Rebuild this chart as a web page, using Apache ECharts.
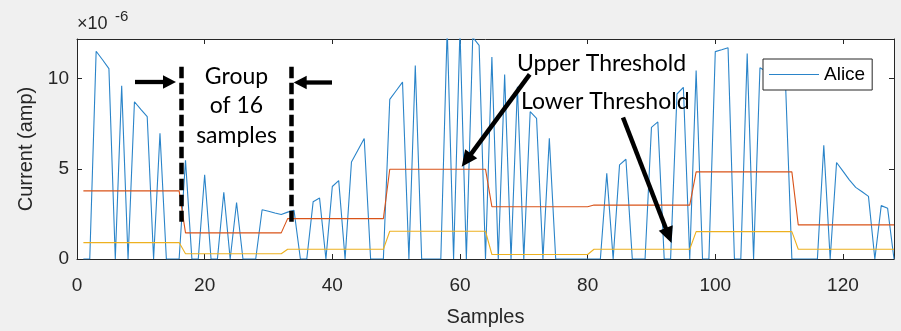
<!DOCTYPE html>
<html><head><meta charset="utf-8">
<script src="https://cdn.jsdelivr.net/npm/echarts@6/dist/echarts.min.js"></script>
<style>html,body{margin:0;padding:0;background:#f0f0f0}#c{width:901px;height:331px}</style>
</head><body><div id="c"></div>
<script>
// values in units of 1e-6 A (axis shows x10^-6)
const yExponent = -6;
const alice = [
  0,0,11.52,11.05,10.56,0,9.6,0,8.72,8.3,7.89,0,6.97,0,0,0,
  5.47,0,0,4.67,0,0,3.7,0,3.13,0,0,0,2.73,2.65,2.55,2.47,
  2.6,2.7,0,0,3.18,3.38,0,4.02,4.35,0,5.38,6.03,6.68,0,0,0,
  8.85,9.33,9.81,0,10.73,0,0,0,0,12.8,0,12.7,0,12.3,11.85,0,
  11.2,0,10.23,0,9.55,0,8.17,7.8,0,6.69,0,0,0,0,0,0,
  0,0,4.75,0,5.22,5.53,0,0,0,7.3,7.6,0,0,9.15,9.52,0,
  10.45,0,0,11.5,11.6,11.71,0,0,11.39,0,10.6,10.4,10.2,10.0,9.8,0,
  0,0,0,0,6.31,0,5.35,4.87,4.39,3.97,3.73,3.47,0,2.96,2.81,0
];
const groupSize = 16;
const upperGroups = [3.78,1.45,2.24,4.98,2.90,2.99,4.83,1.89];
const lowerGroups = [0.91,0.29,0.54,1.54,0.25,0.54,1.52,0.54];
const xTicks = [0,20,40,60,80,100,120];
const yTicks = [0,5,10];
const xMin = 0, xMax = 128, xStep = 20;
const yMin = 0, yMax = 12.2, yStep = 5;

const aliceData = alice.map((v,i)=>[i+1,v]);
const upperData = alice.map((v,i)=>[i+1, upperGroups[Math.floor(i/groupSize)]]);
const lowerData = alice.map((v,i)=>[i+1, lowerGroups[Math.floor(i/groupSize)]]);

const AX = '#262626';
const FONT = 'Liberation Sans';
const ANN = 'Lato';
const BLUE = '#2a84c9';

function arrow(x1,y1,x2,y2,hl,hw,w){
  const dx=x2-x1, dy=y2-y1, L=Math.hypot(dx,dy), ux=dx/L, uy=dy/L;
  const bx=x2-ux*hl, by=y2-uy*hl, px=-uy, py=ux;
  return [
    {type:'line', shape:{x1:x1,y1:y1,x2:bx+ux*1,y2:by+uy*1}, style:{stroke:'#000',lineWidth:w}, z:100},
    {type:'polygon', shape:{points:[[x2,y2],[bx+px*hw,by+py*hw],[bx-px*hw,by-py*hw]]}, style:{fill:'#000'}, z:100}
  ];
}

const chart = echarts.init(document.getElementById('c'), null, {renderer:'canvas'});
const valueAxisCommon = {type:'value', splitLine:{show:false}};
chart.setOption({
  backgroundColor:'#f0f0f0',
  animation:false,
  grid:{left:77, right:7, top:39, bottom:72, show:true, backgroundColor:'#ffffff', borderWidth:0, outerBoundsMode:'none', containLabel:false},
  legend:{
    data:[{name:'Alice', icon:'rect'}], left:763, top:59, orient:'horizontal',
    backgroundColor:'#ffffff', borderColor:AX, borderWidth:1, borderRadius:0,
    padding:[6,7,6,6], itemWidth:50, itemHeight:1.2, itemGap:5,
    itemStyle:{color:BLUE},
    textStyle:{color:'#000', fontSize:19, fontFamily:FONT, lineHeight:19}
  },
  xAxis:[
    Object.assign({}, valueAxisCommon, {position:'bottom', min:xMin, max:xMax, interval:xStep,
      axisLine:{show:true, onZero:false, lineStyle:{color:AX, width:1}},
      axisTick:{show:true, inside:true, length:5, lineStyle:{color:AX}},
      axisLabel:{show:true, color:AX, fontSize:19, fontFamily:FONT, margin:17, showMaxLabel:false,
        formatter:v=> xTicks.includes(v)? String(v):''},
      name:'Samples', nameLocation:'middle', nameGap:48,
      nameTextStyle:{color:AX, fontSize:20, fontFamily:FONT}}),
    Object.assign({}, valueAxisCommon, {position:'top', min:xMin, max:xMax, interval:xStep,
      axisLine:{show:true, onZero:false, lineStyle:{color:AX, width:1}},
      axisTick:{show:true, inside:true, length:5, lineStyle:{color:AX}},
      axisLabel:{show:false}})
  ],
  yAxis:[
    Object.assign({}, valueAxisCommon, {position:'left', min:yMin, max:yMax, interval:yStep,
      axisLine:{show:true, onZero:false, lineStyle:{color:AX, width:1}},
      axisTick:{show:true, inside:true, length:5, lineStyle:{color:AX}},
      axisLabel:{show:true, color:AX, fontSize:19, fontFamily:FONT, margin:8, showMaxLabel:false,
        formatter:v=> yTicks.includes(v)? String(v):''},
      name:'Current (amp)', nameLocation:'middle', nameGap:40,
      nameTextStyle:{color:AX, fontSize:20, fontFamily:FONT}}),
    Object.assign({}, valueAxisCommon, {position:'right', min:yMin, max:yMax, interval:yStep,
      axisLine:{show:true, onZero:false, lineStyle:{color:AX, width:1}},
      axisTick:{show:true, inside:true, length:5, lineStyle:{color:AX}},
      axisLabel:{show:false}})
  ],
  series:[
    {name:'Alice', type:'line', data:aliceData, symbol:'none', clip:true,
      lineStyle:{color:BLUE, width:1.1}, itemStyle:{color:BLUE}, z:3},
    {name:'Upper', type:'line', data:upperData, symbol:'none', clip:true,
      lineStyle:{color:'#D95319', width:1.1}, itemStyle:{color:'#D95319'}, z:4},
    {name:'Lower', type:'line', data:lowerData, symbol:'none', clip:true,
      lineStyle:{color:'#EDB120', width:1.1}, itemStyle:{color:'#EDB120'}, z:4}
  ],
  graphic:[].concat(
    [{type:'text', x:77, y:33, style:{text:'×10', font:'18px '+FONT, fill:AX, align:'left', verticalAlign:'bottom'}},
     {type:'text', x:115, y:24, style:{text:String(yExponent), font:'15px '+FONT, fill:AX, align:'left', verticalAlign:'bottom'}}],
    [{type:'line', shape:{x1:181.5,y1:66.7,x2:181.5,y2:221.7}, style:{stroke:'#000', lineWidth:4.5, lineDash:[11.5,4.5]}, z:100},
     {type:'line', shape:{x1:291.5,y1:66.7,x2:291.5,y2:221.7}, style:{stroke:'#000', lineWidth:4.5, lineDash:[11.5,4.5]}, z:100}],
    arrow(135,82,176,82,13,6.7,4.3),
    arrow(332,82.5,293.7,82.5,13,6.7,4.3),
    arrow(529.7,74.3,461.7,166.7,16,7.5,4.5),
    arrow(623,117.5,671.5,243,16,7.5,4.5),
    [
      {type:'text', x:236.5, y:76.8, style:{text:'Group', font:'23px '+ANN, fill:'#000', align:'center', verticalAlign:'middle'}, z:101},
      {type:'text', x:236.5, y:105.8, style:{text:'of 16', font:'23px '+ANN, fill:'#000', align:'center', verticalAlign:'middle'}, z:101},
      {type:'text', x:236.5, y:135.8, style:{text:'samples', font:'23px '+ANN, fill:'#000', align:'center', verticalAlign:'middle'}, z:101},
      {type:'text', x:517, y:64, style:{text:'Upper Threshold', font:'23px '+ANN, fill:'#000', align:'left', verticalAlign:'middle'}, z:101},
      {type:'text', x:521, y:101.5, style:{text:'Lower Threshold', font:'23px '+ANN, fill:'#000', align:'left', verticalAlign:'middle'}, z:101}
    ]
  )
});
</script></body></html>
